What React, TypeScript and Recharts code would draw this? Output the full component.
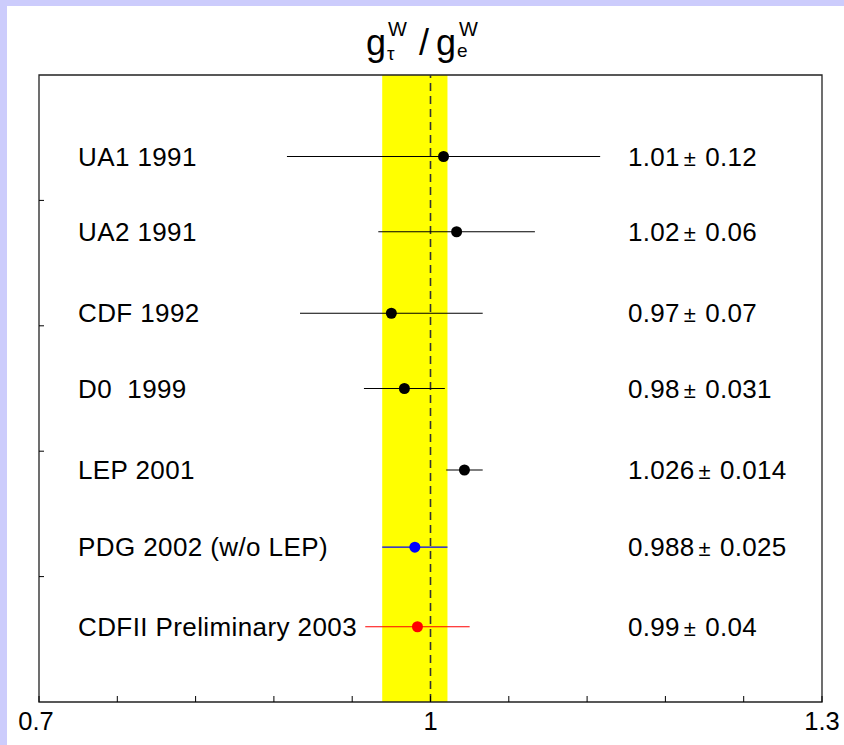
import React from "react";
import {
  ComposedChart,
  Scatter,
  XAxis,
  YAxis,
  ErrorBar,
  ReferenceArea,
  ReferenceLine,
} from "recharts";

const experiments = [
  "UA1 1991",
  "UA2 1991",
  "CDF 1992",
  "D0  1999",
  "LEP 2001",
  "PDG 2002 (w/o LEP)",
  "CDFII Preliminary 2003",
];
const ratios = [1.01, 1.02, 0.97, 0.98, 1.026, 0.988, 0.99];
const ratioText = ["1.01", "1.02", "0.97", "0.98", "1.026", "0.988", "0.99"];
const errors = [0.12, 0.06, 0.07, 0.031, 0.014, 0.025, 0.04];
const errorText = ["0.12", "0.06", "0.07", "0.031", "0.014", "0.025", "0.04"];
// vertical slot of each measurement (y axis runs 0..10)
const rows = [8.7, 7.5, 6.2, 5.0, 3.7, 2.47, 1.2];
const colors = ["#000", "#000", "#000", "#000", "#000", "#0000ff", "#ff0000"];

const xTicks = [0.7, 0.76, 0.82, 0.88, 0.94, 1.0, 1.06, 1.12, 1.18, 1.24, 1.3];
const xLabelValues = [0.7, 1.0, 1.3];
const xLabelText = ["0.7", "1", "1.3"];
const yTicks = [2, 4, 6, 8];

// yellow band = PDG average
const PDG = 5;
const bandLow = ratios[PDG] - errors[PDG];
const bandHigh = ratios[PDG] + errors[PDG];

const FONT = "'Liberation Sans', Arial, Helvetica, sans-serif";
const LABEL_X = 78;
const VALUE_X = 628;

const points = experiments.map((name, i) => ({
  name,
  x: ratios[i],
  y: rows[i],
  err: errors[i],
  value: ratioText[i],
  errText: errorText[i],
  color: colors[i],
}));

function XTick(props: any) {
  const { x, y, payload } = props;
  const idx = xLabelValues.indexOf(payload.value);
  return (
    <g>
      <line x1={x} x2={x} y1={y} y2={y - 6} stroke="#000" strokeWidth={1} />
      {idx >= 0 && (
        <text
          x={idx === 0 ? x - 3 : x}
          y={y + 28}
          textAnchor="middle"
          fontFamily={FONT}
          fontSize={25.5}
          fill="#000"
        >
          {xLabelText[idx]}
        </text>
      )}
    </g>
  );
}

function YTick(props: any) {
  const { x, y } = props;
  return <line x1={x} x2={x + 5} y1={y} y2={y} stroke="#000" strokeWidth={1} />;
}

function Marker(props: any) {
  const { cx, cy, payload } = props;
  return (
    <g>
      <circle cx={cx} cy={cy} r={5.5} fill={payload.color} />
      <text
        x={LABEL_X}
        y={cy + 9}
        fontFamily={FONT}
        fontSize={26}
        letterSpacing={0.4}
        fill="#000"
        style={{ whiteSpace: "pre" }}
      >
        {payload.name}
      </text>
      <text
        x={VALUE_X}
        y={cy + 9}
        fontFamily={FONT}
        fontSize={26}
        letterSpacing={0.3}
        fill="#000"
      >
        {payload.value}
        <tspan dx={4} fontSize={22}>±</tspan>
        <tspan dx={9} fontSize={26}>{payload.errText}</tspan>
      </text>
    </g>
  );
}

function Title() {
  const base: React.CSSProperties = {
    position: "absolute",
    fontFamily: FONT,
    color: "#000",
    whiteSpace: "nowrap",
    lineHeight: 1,
  };
  return (
    <>
      <span style={{ ...base, left: 366, top: 25, fontSize: 36 }}>g</span>
      <span style={{ ...base, left: 388, top: 19, fontSize: 20 }}>W</span>
      <span style={{ ...base, left: 387, top: 44, fontSize: 19 }}>τ</span>
      <span style={{ ...base, left: 419, top: 25, fontSize: 36 }}>/</span>
      <span style={{ ...base, left: 436, top: 25, fontSize: 36 }}>g</span>
      <span style={{ ...base, left: 459, top: 19, fontSize: 20 }}>W</span>
      <span style={{ ...base, left: 457, top: 41, fontSize: 19 }}>e</span>
    </>
  );
}

export default function App() {
  return (
    <div
      style={{
        position: "fixed",
        left: 0,
        top: 0,
        width: 844,
        height: 745,
        background: "#ccccfc",
        overflow: "hidden",
      }}
    >
      <div
        style={{
          position: "absolute",
          left: 7,
          top: 6,
          right: 0,
          bottom: 0,
          background: "#fff",
        }}
      />
      <div style={{ position: "absolute", left: 0, top: 0 }}>
        <ComposedChart
          width={844}
          height={745}
          margin={{ top: 75, right: 22, left: 0, bottom: 0 }}
        >
          <XAxis
            type="number"
            dataKey="x"
            domain={[0.7, 1.3]}
            ticks={xTicks}
            interval={0}
            allowDataOverflow
            height={43}
            axisLine={false}
            tickLine={false}
            tickSize={0}
            tickMargin={0}
            tick={<XTick />}
          />
          <YAxis
            type="number"
            dataKey="y"
            domain={[0, 10]}
            ticks={yTicks}
            width={39}
            axisLine={false}
            tickLine={false}
            tickSize={0}
            tickMargin={0}
            tick={<YTick />}
          />
          <ReferenceArea
            x1={bandLow}
            x2={bandHigh}
            y1={0}
            y2={10}
            fill="#ffff00"
            fillOpacity={1}
            stroke="none"
          />
          <ReferenceLine
            x={1}
            stroke="#333"
            strokeWidth={1.6}
            strokeDasharray="8 5"
          />
          <ReferenceArea
            x1={0.7}
            x2={1.3}
            y1={0}
            y2={10}
            fill="none"
            fillOpacity={0}
            stroke="#222"
            strokeWidth={1.3}
          />
          {points.map((p) => (
            <Scatter
              key={p.name}
              data={[p]}
              fill={p.color}
              shape={<Marker />}
              isAnimationActive={false}
            >
              <ErrorBar
                dataKey="err"
                direction="x"
                width={0}
                stroke={p.color}
                strokeWidth={1.2}
                isAnimationActive={false}
              />
            </Scatter>
          ))}
        </ComposedChart>
      </div>
      <Title />
    </div>
  );
}
